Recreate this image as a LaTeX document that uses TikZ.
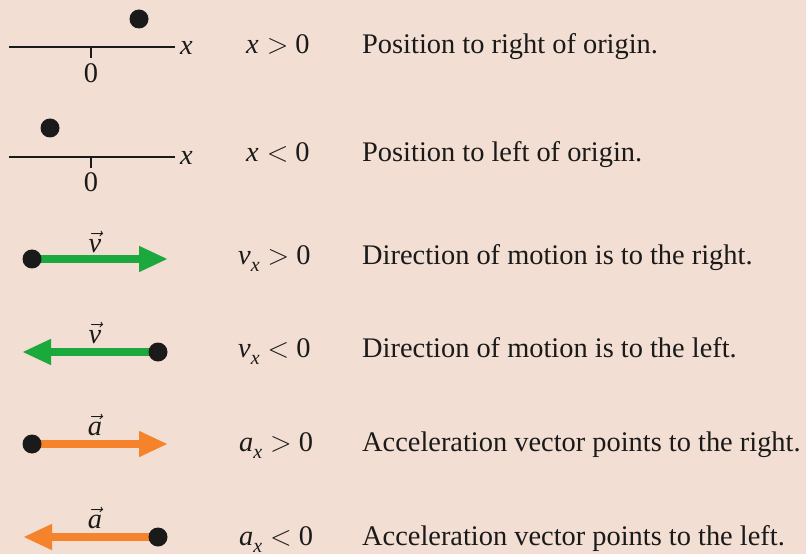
\RequirePackage{fix-cm}
\documentclass[tikz,border=0pt]{standalone}
\usepackage{fontspec}
\setmainfont{Liberation Serif}
\usetikzlibrary{arrows.meta}
\definecolor{BgPeach}{HTML}{F2DED2}
\definecolor{VelGreen}{HTML}{1BA83C}
\definecolor{AccOrange}{HTML}{F5832C}
\definecolor{InkBlack}{HTML}{1A1A1A}
\newcommand{\subx}{\raisebox{-7bp}{\fontsize{20}{20}\selectfont\textit{x}}}
\newcommand{\relgt}{\hspace{8bp}$>$\hspace{7bp}}
\newcommand{\rellt}{\hspace{8bp}$<$\hspace{7bp}}

\begin{document}
\begin{tikzpicture}[
    x=1bp, y=-1bp,
    font=\fontsize{28.5}{32}\selectfont, text=InkBlack,
    axis/.style={draw=InkBlack, line width=2.6bp},
    dot/.style={circle, fill=InkBlack, inner sep=0pt, minimum size=19bp},
    vel/.style={draw=VelGreen, line width=8bp, -{Triangle[length=29bp, width=24bp]}},
    acc/.style={draw=AccOrange, line width=8bp, -{Triangle[length=29bp, width=24bp]}},
    lbl/.style={inner sep=0pt},
    cond/.style={anchor=west, inner sep=0pt, text height=20bp, text depth=6bp},
    desc/.style={anchor=west, inner sep=0pt, text height=20bp, text depth=6bp},
  ]
    \fill[BgPeach] (0,0) rectangle (806,554);
    \useasboundingbox (0,0) rectangle (806,554);

    % ---- position, x > 0 ----
    \coordinate (ax1l) at (9,47);
    \coordinate (ax1r) at (175,47);
    \coordinate (o1)   at (91,47);
    \coordinate (o1t)  at (91,58);
    \draw[axis] (ax1l) -- (ax1r);
    \draw[axis] (o1) -- (o1t);
    \node[lbl, anchor=west] (xl1) at (180,48) {\textit{x}};
    \node[lbl] (z1) at (91,73) {0};
    \node[dot] (p1) at (139,19) {};
    \node[cond] (c1) at (246,47) {\textit{x}\relgt 0};
    \node[desc] (d1) at (362,47) {Position to right of origin.};

    % ---- position, x < 0 ----
    \coordinate (ax2l) at (9,157);
    \coordinate (ax2r) at (175,157);
    \coordinate (o2)   at (91,157);
    \coordinate (o2t)  at (91,168);
    \draw[axis] (ax2l) -- (ax2r);
    \draw[axis] (o2) -- (o2t);
    \node[lbl, anchor=west] (xl2) at (180,158) {\textit{x}};
    \node[lbl] (z2) at (91,182) {0};
    \node[dot] (p2) at (50,128) {};
    \node[cond] (c2) at (246,155) {\textit{x}\rellt 0};
    \node[desc] (d2) at (362,155) {Position to left of origin.};

    % ---- velocity ----
    \coordinate (v1c) at (32,259);
    \coordinate (v1t) at (168,259);
    \draw[vel] (v1c) -- (v1t);
    \node[dot] (v1) at (v1c) {};
    \node[lbl] (vl1) at (95,242) {$\vec{\mathit{v}}$};
    \node[cond] (c3) at (238,258) {\textit{v}\subx\relgt 0};
    \node[desc] (d3) at (362,258) {Direction of motion is to the right.};

    \coordinate (v2c) at (158,352);
    \coordinate (v2t) at (22,352);
    \draw[vel] (v2c) -- (v2t);
    \node[dot] (v2) at (v2c) {};
    \node[lbl] (vl2) at (95,333) {$\vec{\mathit{v}}$};
    \node[cond] (c4) at (238,350) {\textit{v}\subx\rellt 0};
    \node[desc] (d4) at (362,350) {Direction of motion is to the left.};

    % ---- acceleration ----
    \coordinate (a1c) at (32,444);
    \coordinate (a1t) at (168,444);
    \draw[acc] (a1c) -- (a1t);
    \node[dot] (a1) at (a1c) {};
    \node[lbl] (al1) at (95,425) {$\vec{\mathit{a}}$};
    \node[cond] (c5) at (239,444) {\textit{a}\subx\relgt 0};
    \node[desc] (d5) at (362,444) {Acceleration vector points to the right.};

    \coordinate (a2c) at (158,537);
    \coordinate (a2t) at (23,537);
    \draw[acc] (a2c) -- (a2t);
    \node[dot] (a2) at (a2c) {};
    \node[lbl] (al2) at (95,518) {$\vec{\mathit{a}}$};
    \node[cond] (c6) at (239,538) {\textit{a}\subx\rellt 0};
    \node[desc] (d6) at (362,538) {Acceleration vector points to the left.};
\end{tikzpicture}
\end{document}
